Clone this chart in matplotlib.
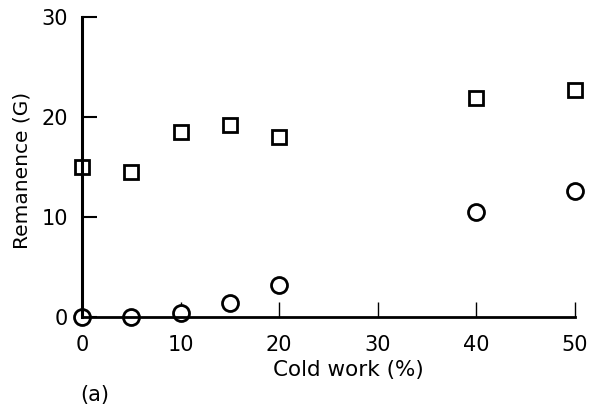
import matplotlib
matplotlib.use("Agg")
import matplotlib.pyplot as plt

# remanence vs cold work, two sample series
cold_work_sq = [0, 5, 10, 15, 20, 40, 50]
remanence_sq = [15.0, 14.5, 18.5, 19.2, 18.0, 21.9, 22.7]

cold_work_ci = [0, 5, 10, 15, 20, 40, 50]
remanence_ci = [0.0, 0.0, 0.4, 1.4, 3.2, 10.5, 12.6]

xticks = [0, 10, 20, 30, 40, 50]
yticks = [0, 10, 20, 30]

plt.rcParams['font.family'] = ['DejaVu Sans']

fig = plt.figure(figsize=(5.97, 4.08), dpi=100)
ax = fig.add_axes([82/597, 1-317/408, 493/597, 300/408])

ax.plot(cold_work_sq, remanence_sq, 's', ms=10.5, mfc='white', mec='black', mew=2, clip_on=False)
ax.plot(cold_work_ci, remanence_ci, 'o', ms=11.5, mfc='white', mec='black', mew=2, clip_on=False)

ax.set_xlim(0, 50)
ax.set_ylim(0, 30)
ax.set_xticks(xticks)
ax.set_yticks(yticks)

for s in ['top', 'right']:
    ax.spines[s].set_visible(False)
ax.spines['left'].set_linewidth(2.2)
ax.spines['bottom'].set_linewidth(2)

ax.tick_params(axis='y', direction='in', length=11, width=1.5, pad=10, labelsize=15)
ax.tick_params(axis='x', direction='in', length=11, width=1, pad=13, labelsize=15)

ax.set_xlabel('Cold work (%)', fontsize=15.5)
ax.xaxis.set_label_coords(0.54, -0.143)
ax.set_ylabel('Remanence (G)', fontsize=14.5)
ax.yaxis.set_label_coords(-0.102, 0.49)

fig.text(80/597, 1-395/408, '(a)', fontsize=15, va='center', ha='left')

fig.savefig('out.png', dpi=100)
